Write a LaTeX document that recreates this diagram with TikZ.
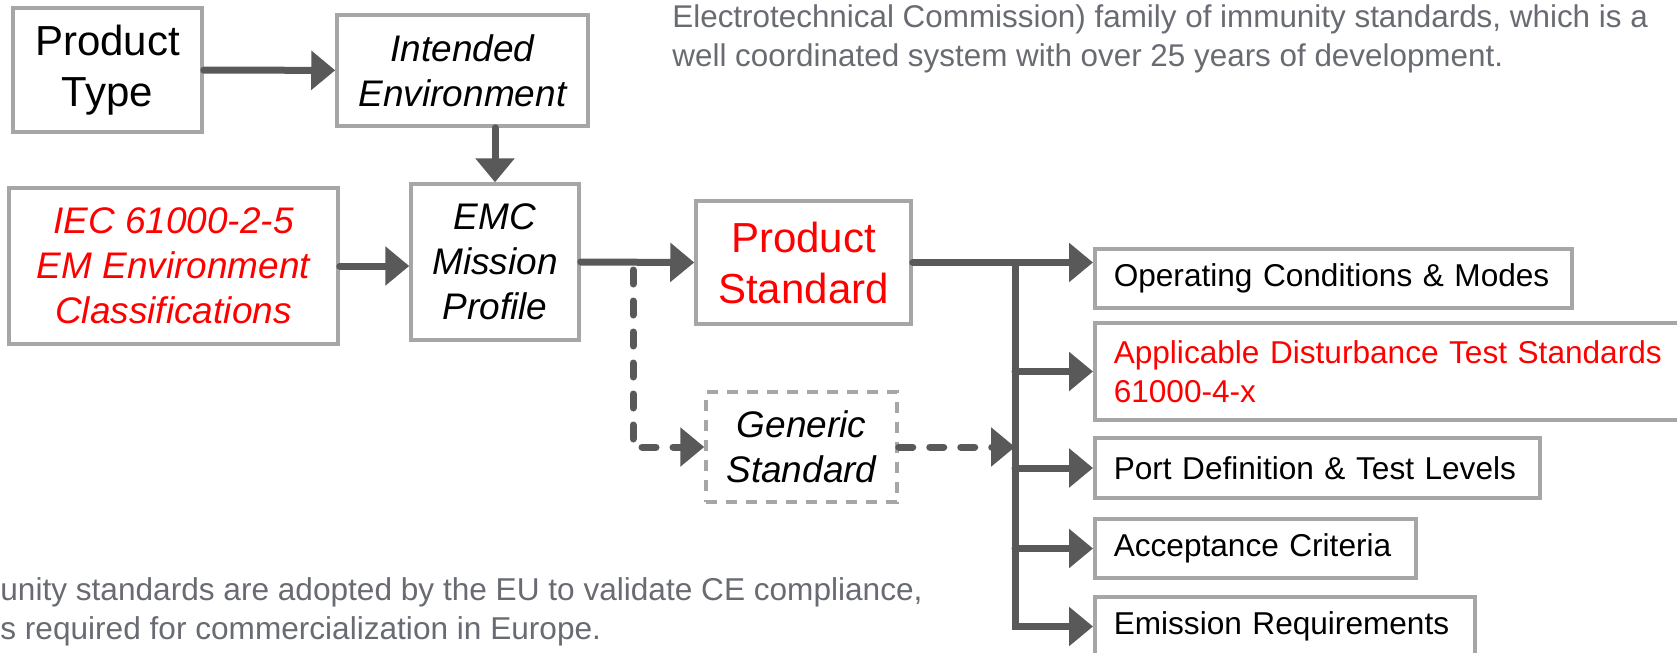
\documentclass[tikz,border=0pt]{standalone}
\usepackage{fontspec}
\setmainfont{Liberation Sans}
\usetikzlibrary{arrows.meta,positioning}
\definecolor{boxgray}{RGB}{166,166,166}
\definecolor{arrgray}{RGB}{89,89,89}
\definecolor{notegray}{RGB}{104,107,114}
\definecolor{stdred}{RGB}{255,0,0}

\begin{document}
\begin{tikzpicture}[x=0.5pt,y=-0.5pt,
  box/.style={draw=boxgray,line width=1.75pt,inner sep=0pt,align=center},
  big/.style={font=\fontsize{21}{25.5}\selectfont},
  ital/.style={font=\fontsize{18.5}{22.5}\selectfont\itshape},
  item/.style={box,anchor=west,align=left,inner xsep=9.5pt,minimum height=29.5pt,font=\fontsize{15.8}{19.5}\selectfont},
  note/.style={text=notegray,inner sep=0pt,align=left,anchor=north west},
  arr/.style={draw=arrgray,line width=3.5pt,line cap=round,-{Triangle[length=12pt,width=19pt]}},
  dasharr/.style={arr,dash pattern=on 7pt off 8.5pt}]
	 \clip (0,0) rectangle (1677,653);

	 \node at (107.5,70) [box,big,minimum width=94.5pt,minimum height=62pt] (ptype) {Product\\Type};
	 \node at (462.5,70.5) [box,ital,minimum width=125.5pt,minimum height=55.5pt] (intenv) {Intended\\Environment};
	 \node at (173.5,266) [box,ital,text=stdred,minimum width=164.5pt,minimum height=78pt] (iec) {IEC 61000-2-5\\EM Environment\\Classifications};
	 \node at (495,262) [box,ital,minimum width=84pt,minimum height=78pt] (emc) {EMC\\Mission\\Profile};
	 \node at (803.5,262.5) [box,big,text=stdred,minimum width=107.5pt,minimum height=61.5pt] (prodstd) {Product\\Standard};
	 \node at (801.5,447) [box,ital,dash pattern=on 5.5pt off 4.5pt,minimum width=95.5pt,minimum height=55pt] (genstd) {Generic\\Standard};

	 \node at (1093,278.5) [item,text width=219.5pt] (opcond) {Operating Conditions \& Modes};
	 \node at (1093,371.5) [item,text=stdred,text width=284.5pt,minimum height=48.5pt] (disturb) {Applicable Disturbance Test Standards\\61000-4-x};
	 \node at (1093,468) [item,text width=203.5pt,minimum height=30pt] (portdef) {Port Definition \& Test Levels};
	 \node at (1093,548.5) [item,text width=141.5pt] (accept) {Acceptance Criteria};
	 \node at (1093,626.5) [item,text width=171pt] (emission) {Emission Requirements};

	 \node at (672,4.5) [note,font=\fontsize{15.7}{19.5}\selectfont] (topnote) {Electrotechnical Commission) family of immunity standards, which is a\\well coordinated system with over 25 years of development.};
	 \node at (0,577) [note,font=\fontsize{15.8}{19.5}\selectfont] (botnote) {unity standards are adopted by the EU to validate CE compliance,\\s required for commercialization in Europe.};

	 \coordinate (split) at (633,270);
	 \coordinate (bustop) at (1015,262.5);

	 \draw[arr] (ptype) -- (intenv);
	 \draw[arr] (emc.north |- intenv.south) -- (emc.north);
	 \draw[arr] (iec.east) -- (iec.east -| emc.west);
	 \draw[arr] (emc.east) -- (prodstd.west);
	 \draw[dasharr] (split) |- (genstd.west);
	 \draw[arr] (prodstd.east) -- (prodstd.east -| opcond.west);
	 \draw[arr] (bustop) |- (emission.west);
	 \foreach \target in {disturb,portdef,accept}
	   \draw[arr] (bustop |- \target.west) -- (\target.west);
	 \draw[dasharr] (genstd.east) -- (genstd.east -| bustop);

\end{tikzpicture}
\end{document}
